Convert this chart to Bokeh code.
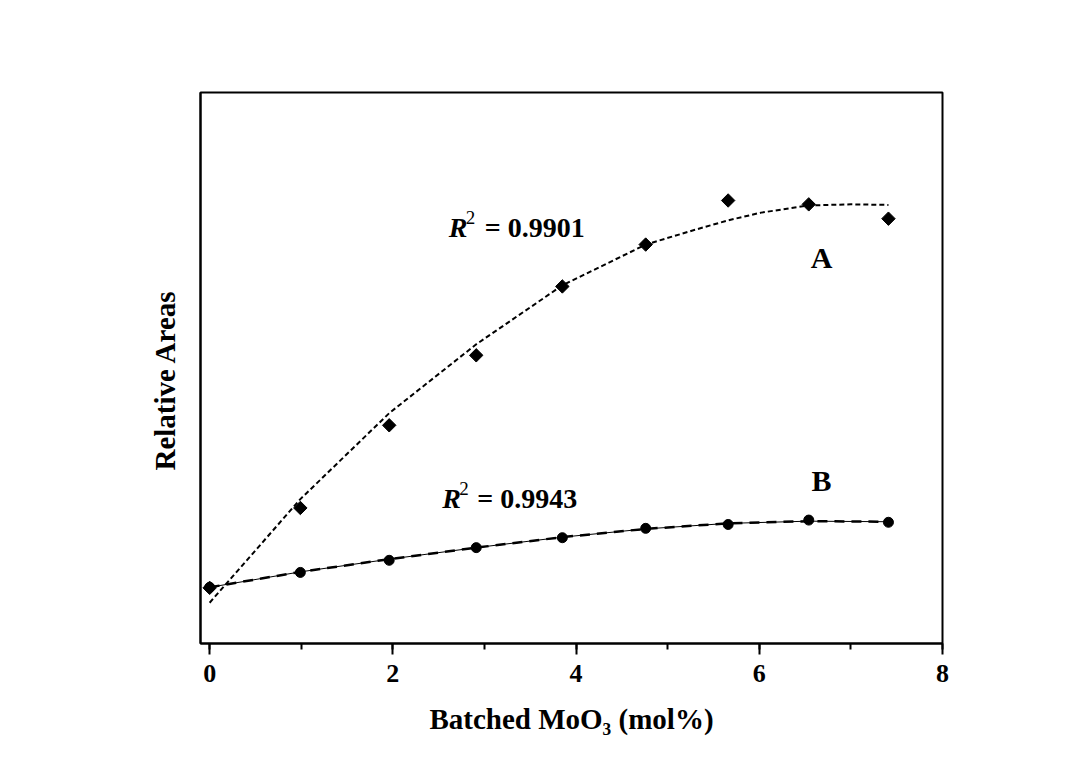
import math
from bokeh.plotting import figure
from bokeh.models import Range1d, SingleIntervalTicker, FixedTicker, Label, Title
from bokeh.embed import file_html
from bokeh.resources import INLINE

# ---- data ----
x_mol = [0.0, 0.99, 1.96, 2.91, 3.85, 4.76, 5.66, 6.54, 7.41]
area_A = [0.101, 0.246, 0.396, 0.523, 0.648, 0.724, 0.804, 0.797, 0.771]
area_B = [0.102, 0.129, 0.151, 0.174, 0.192, 0.209, 0.216, 0.224, 0.220]

fit_A_x = [0.0, 0.99, 1.96, 2.91, 3.85, 4.76, 5.28, 5.66, 6.02, 6.54, 7.0, 7.41]
fit_A_y = [0.074, 0.262, 0.418, 0.543, 0.650, 0.724, 0.750, 0.768, 0.782, 0.795, 0.797, 0.796]

fit_B_x = [0.0, 0.99, 1.96, 2.91, 3.85, 4.76, 5.66, 6.54, 7.41]
fit_B_y = [0.102, 0.130, 0.153, 0.174, 0.193, 0.208, 0.218, 0.222, 0.221]

x_label = "Batched MoO\u2083 (mol%)"
y_label = "Relative Areas"
r2_A = "= 0.9901"
r2_B = "= 0.9943"

FONT = "Liberation Serif"

p = figure(width=1078, height=760, output_backend="svg", toolbar_location=None,
           x_range=Range1d(-0.1, 8), y_range=Range1d(0, 1),
           min_border_left=200, min_border_right=136,
           min_border_top=92, min_border_bottom=117)
p.background_fill_color = "white"
p.border_fill_color = "white"
p.grid.visible = False
p.outline_line_color = "black"
p.outline_line_width = 2

# x axis
xa = p.xaxis[0]
xa.ticker = SingleIntervalTicker(interval=2, num_minor_ticks=2)
xa.axis_line_width = 2
xa.major_tick_in = 0
xa.major_tick_out = 11
xa.major_tick_line_width = 2
xa.minor_tick_in = 0
xa.minor_tick_out = 6
xa.minor_tick_line_width = 2
xa.major_label_standoff = 10
xa.major_label_text_font = FONT
xa.major_label_text_font_style = "bold"
xa.major_label_text_font_size = "26px"
xa.major_label_text_color = "black"
xa.axis_label = x_label
xa.axis_label_text_font = FONT
xa.axis_label_text_font_style = "bold"
xa.axis_label_text_font_size = "29px"
xa.axis_label_text_color = "black"
xa.axis_label_standoff = 18

# y axis (line only; its title is placed as a side title)
ya = p.yaxis[0]
ya.ticker = FixedTicker(ticks=[])
ya.axis_line_width = 2
ya.major_tick_out = 0
ya.major_tick_in = 0
ya.minor_tick_out = 0
ya.minor_tick_in = 0
ya.major_label_text_font_size = "0px"
ya.major_label_standoff = 0

p.add_layout(Title(text=y_label, align="left", offset=173, standoff=40,
                   text_font=FONT, text_font_style="bold", text_font_size="29px",
                   text_color="black"), "left")

# fit curves
p.line(fit_A_x, fit_A_y, line_color="black", line_width=2, line_dash="5 3")
p.line(fit_B_x, fit_B_y, line_color="black", line_width=1)
p.line(fit_B_x, fit_B_y, line_color="black", line_width=2.5, line_dash="10 7")

# markers
p.scatter(x_mol, area_A, marker="square", angle=math.pi / 4, size=9.5,
          fill_color="black", line_color="black")
p.scatter(x_mol, area_B, marker="circle", size=10,
          fill_color="black", line_color="black")

# annotations
def r2(x, y, rest, dx_eq):
    p.add_layout(Label(x=x, y=y, text="R", text_font=FONT, text_font_style="bold italic",
                       text_font_size="28px", text_color="black", text_baseline="alphabetic"))
    p.add_layout(Label(x=x, y=y, x_offset=17, y_offset=10, text="2", text_font=FONT,
                       text_font_style="normal", text_font_size="19px", text_color="black",
                       text_baseline="alphabetic"))
    p.add_layout(Label(x=x, y=y, x_offset=dx_eq, text=rest, text_font=FONT,
                       text_font_style="bold", text_font_size="28px", text_color="black",
                       text_baseline="alphabetic"))

r2(2.61, 0.755, r2_A, 36)
r2(2.54, 0.263, r2_B, 35)

p.add_layout(Label(x=6.68, y=0.700, text="A", text_font=FONT, text_font_style="bold",
                   text_font_size="30px", text_color="black", text_align="center",
                   text_baseline="middle"))
p.add_layout(Label(x=6.68, y=0.296, text="B", text_font=FONT, text_font_style="bold",
                   text_font_size="30px", text_color="black", text_align="center",
                   text_baseline="middle"))

open("out.html", "w").write(file_html(p, INLINE))
